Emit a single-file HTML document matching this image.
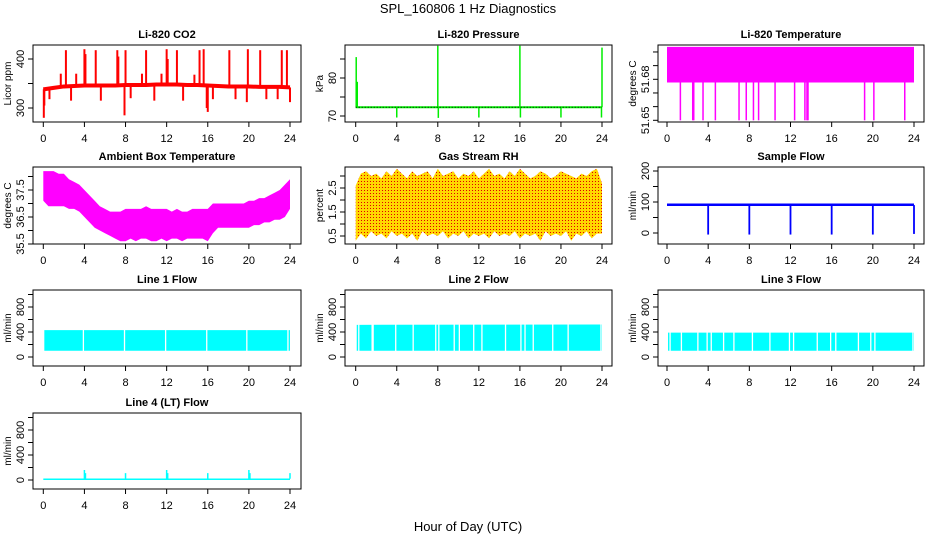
<!DOCTYPE html>
<html><head><meta charset="utf-8"><style>
html,body{margin:0;padding:0;background:#fff}
svg{display:block;font-family:"Liberation Sans",sans-serif}
</style></head><body>
<svg id="c" width="936" height="540" viewBox="0 0 936 540">
<text x="468" y="13" text-anchor="middle" font-size="13">SPL_160806  1 Hz Diagnostics</text>
<text x="468" y="531" text-anchor="middle" font-size="13">Hour of Day (UTC)</text>
<defs>
<pattern id="rhpat" width="3" height="3" patternUnits="userSpaceOnUse"><rect width="3" height="3" fill="#ffd700"/><rect x="1" y="1" width="1" height="1" fill="#e00000"/></pattern>
</defs>
</svg>
<script>
// ---- data ----
const xTicks=[0,4,8,12,16,20,24];
const co2Hours=[0,1,2,3,4,5,6,7,8,9,10,11,12,13,14,15,16,17,18,19,20,21,22,23,24];
const co2Base=[338,341,344,345,346,346,346,346,347,347,347,348,348,348,347,347,346,345,344,344,344,343,343,343,342];
const co2SpikeHours=[0.05,0.1,0.6,1.7,2.2,2.7,3.2,4.0,4.1,5.1,5.6,7.2,7.3,7.9,8.0,8.5,9.6,10.0,10.8,11.5,12.0,12.1,13.0,13.6,14.7,15.2,15.6,15.9,16.0,16.5,18.1,18.7,19.8,19.9,21.1,21.7,22.8,23.2,23.7,24.0];
const co2SpikeVals=[280,305,318,370,418,315,370,420,410,418,315,418,405,285,418,320,370,418,315,370,420,400,418,315,368,418,420,300,292,318,418,318,312,420,418,318,318,418,418,312];
const presHours=[0,24];
const presBase=[72.3,72.3];
const presSpikeHours=[0.05,0.15,4.0,8.0,8.05,12.0,16.0,16.05,20.0,24.0,23.95];
const presSpikeVals=[85.5,79,69.6,88.5,69.5,69.6,88.5,69.6,69.6,88,69.6];
const ltHours=[0,24];
const ltLow=[51.6777,51.6777];
const ltHigh=[51.7037,51.7037];
const ltSpikeHours=[1.3,2.5,2.6,3.5,4.7,7.0,7.7,8.4,8.9,10.5,12.4,13.4,13.6,13.7,19.2,20.1,23.1];
const ltSpikeVals=[51.65,51.65,51.65,51.65,51.65,51.65,51.65,51.65,51.65,51.65,51.65,51.65,51.65,51.65,51.65,51.65,51.65];
const ambHours=[0,0.5,1,1.5,2,2.5,3,3.5,4,4.5,5,5.5,6,6.5,7,7.5,8,8.5,9,9.5,10,10.5,11,11.5,12,12.5,13,13.5,14,14.5,15,15.5,16,16.5,17,17.5,18,18.5,19,19.5,20,20.5,21,21.5,22,22.5,23,23.5,24];
const ambLow=[37.1,36.9,36.9,36.9,36.9,36.8,36.8,36.7,36.5,36.3,36.1,36.0,35.9,35.8,35.7,35.6,35.6,35.7,35.6,35.7,35.7,35.6,35.6,35.7,35.6,35.7,35.7,35.6,35.7,35.7,35.7,35.7,35.6,35.9,36.1,36.1,36.1,36.1,36.1,36.1,36.1,36.2,36.2,36.3,36.3,36.4,36.4,36.5,36.8];
const ambHigh=[38.2,38.2,38.2,38.1,38.1,37.9,37.8,37.7,37.5,37.3,37.1,36.9,36.8,36.7,36.7,36.7,36.8,36.8,36.8,36.8,36.9,36.8,36.8,36.8,36.8,36.7,36.8,36.7,36.7,36.8,36.8,36.8,36.8,37.0,37.0,37.0,37.0,37.0,37.0,37.0,37.1,37.1,37.2,37.2,37.3,37.4,37.5,37.7,37.9];
const rhHours=[0,0.5,1,1.5,2,2.5,3,3.5,4,4.5,5,5.5,6,6.5,7,7.5,8,8.5,9,9.5,10,10.5,11,11.5,12,12.5,13,13.5,14,14.5,15,15.5,16,16.5,17,17.5,18,18.5,19,19.5,20,20.5,21,21.5,22,22.5,23,23.5,24];
const rhLow=[0.3,0.6,0.4,0.7,0.5,0.6,0.4,0.7,0.5,0.6,0.4,0.6,0.3,0.7,0.5,0.6,0.5,0.7,0.4,0.6,0.5,0.7,0.4,0.6,0.5,0.6,0.4,0.7,0.5,0.6,0.5,0.7,0.4,0.6,0.5,0.6,0.3,0.7,0.5,0.6,0.5,0.7,0.3,0.6,0.5,0.7,0.4,0.6,0.6];
const rhHigh=[2.6,3.1,3.2,3.0,3.1,2.9,3.2,3.0,3.3,3.1,2.9,3.2,3.0,3.1,3.2,2.9,3.3,3.0,3.1,3.2,2.9,3.1,3.0,3.2,2.9,3.1,3.3,3.0,3.1,2.9,3.2,3.0,3.3,3.1,2.9,3.0,3.2,3.1,2.9,3.0,3.2,3.1,3.0,2.9,3.1,3.0,3.2,3.3,2.7];
const sfHours=[0,24];
const sfLow=[87,87];
const sfHigh=[95,95];
const sfSpikeHours=[4,8,12,16,20,24];
const sfSpikeVals=[-5,-5,-5,-5,-5,-3];
const l1Low=[100,100];const l1High=[430,430];
const l1GapHours=[3.9,7.9,11.9,15.9,19.8,23.8];
const l2Low=[100,100];const l2High=[515,520];
const l2GapHours=[0.3,1.6,1.7,3.9,5.6,7.8,8.1,9.6,10.1,11.5,12.3,14.6,16.1,16.5,17.3,19.2,20.7,23.9];
const l3Low=[100,100];const l3High=[390,390];
const l3GapHours=[0.3,1.4,3.0,3.9,4.3,5.5,6.5,8.3,10.0,11.9,12.3,14.6,15.9,16.4,18.6,19.8,20.2,23.9];
const l4Hours=[0,24];const l4Low=[0,0];const l4High=[25,25];
const l4SpikeHours=[4.0,4.1,8.0,12.0,12.1,16.0,20.0,20.1,24.0];
const l4SpikeVals=[160,110,110,160,110,110,160,110,110];
const flowTicks=[0,200,400,600,800,1000];
const flowLabels=[0,400,800];

// ---- helpers ----
const svg=document.getElementById('c');
const NS='http://www.w3.org/2000/svg';
function mk(tag,attrs,parent){const e=document.createElementNS(NS,tag);for(const k in attrs)e.setAttribute(k,attrs[k]);(parent||svg).appendChild(e);return e;}
const cols=[{l:33,r:301,x0:43.3,x24:290},{l:345,r:612,x0:355.7,x24:602},{l:658,r:924,x0:667,x24:914}];
const rows=[{t:45,b:122},{t:167,b:244},{t:290,b:366},{t:413,b:489}];

function panel(p){
  const c=cols[p.col],r=rows[p.row];
  const g=mk('g',{});
  
  
  const X=h=>c.x0+h*(c.x24-c.x0)/24;
  const Y=v=>p.y1+(v-p.v1)*(p.y2-p.y1)/(p.v2-p.v1);
  const clip=mk('clipPath',{id:'cl'+p.name},g);
  mk('rect',{x:c.l,y:r.t,width:c.r-c.l,height:r.b-r.t},clip);
  const plot=mk('g',{'clip-path':'url(#cl'+p.name+')'},g);
  
  
  p.draw(plot,X,Y);
  const box=mk('rect',{x:c.l,y:r.t,width:c.r-c.l,height:r.b-r.t,fill:'none',stroke:'#000','stroke-width':1},g);
  
  
  const t=mk('text',{x:(c.l+c.r)/2,y:r.t-7,'text-anchor':'middle','font-size':11,'font-weight':'bold'},g);
  t.textContent=p.title;
  
  
  xTicks.forEach(h=>{
    mk('line',{x1:X(h),x2:X(h),y1:r.b,y2:r.b+5,stroke:'#000'},g);
    const tl=mk('text',{x:X(h),y:r.b+20,'text-anchor':'middle','font-size':11},g);
    tl.textContent=h;
    
    
  });
  p.yTicks.forEach(v=>{mk('line',{x1:c.l-5,x2:c.l,y1:Y(v),y2:Y(v),stroke:'#000'},g);});
  p.yLabels.forEach(v=>{
    const yl=mk('text',{x:0,y:0,'text-anchor':'middle','font-size':11,transform:'translate('+(c.l-9)+','+Y(v)+') rotate(-90)'},g);
    yl.textContent=v;
    
    
  });
  const yt=mk('text',{x:0,y:0,'text-anchor':'middle','font-size':10,transform:'translate('+(c.l-22)+','+((r.t+r.b)/2)+') rotate(-90)'},g);
  yt.textContent=p.ylab;
  
  
}
function spikes(plot,X,Y,hs,vs,baseFn,color,w){
  hs.forEach((h,i)=>{
    const ln=mk('line',{x1:X(h),x2:X(h),y1:Y(baseFn(h)),y2:Y(vs[i]),stroke:color,'stroke-width':w||1.5},plot);
    
    
  });
}
function interp(hs,vs,h){for(let i=0;i<hs.length-1;i++){if(h<=hs[i+1]){const f=(h-hs[i])/(hs[i+1]-hs[i]);return vs[i]+f*(vs[i+1]-vs[i]);}}return vs[vs.length-1];}
function band(plot,X,Y,hs,lo,hi,fill,name){
  let pts=hs.map((h,i)=>X(h)+','+Y(hi[i]));
  pts=pts.concat(hs.slice().reverse().map((h,j)=>X(h)+','+Y(lo[hs.length-1-j])));
  const pg=mk('polygon',{points:pts.join(' '),fill:fill},plot);
  
  
}
function gaps(plot,X,Y,hs,lo,hi){
  hs.forEach(h=>{
    const ln=mk('line',{x1:X(h),x2:X(h),y1:Y(hi[0])-1,y2:Y(lo[0])+1,stroke:'#fff','stroke-width':1.3},plot);
    
    
  });
}

panel({name:'co2',title:'Li-820 CO2',ylab:'Licor ppm',col:0,row:0,v1:400,y1:59,v2:300,y2:108,yTicks:[300,350,400],yLabels:[300,400],
 draw:(pl,X,Y)=>{
  spikes(pl,X,Y,co2SpikeHours,co2SpikeVals,h=>interp(co2Hours,co2Base,h),'#ff0000',2);
  const pts=co2Hours.map((h,i)=>X(h)+','+Y(co2Base[i])).join(' ');
  const l=mk('polyline',{points:pts,fill:'none',stroke:'#ff0000','stroke-width':4},pl);
  
 }});
panel({name:'pressure',title:'Li-820 Pressure',ylab:'kPa',col:1,row:0,v1:80,y1:78,v2:70,y2:116,yTicks:[70,75,80,85],yLabels:[70,80],
 draw:(pl,X,Y)=>{
  spikes(pl,X,Y,presSpikeHours,presSpikeVals,h=>72.3,'#00ee00',1.5);
  const pts=presHours.map((h,i)=>X(h)+','+Y(presBase[i])).join(' ');
  const l=mk('polyline',{points:pts,fill:'none',stroke:'#00ee00','stroke-width':2},pl);
  
  const d=mk('polyline',{points:pts,fill:'none',stroke:'#000','stroke-width':1,'stroke-dasharray':'1,2'},pl);
  
 }});
panel({name:'li820-temp',title:'Li-820 Temperature',ylab:'degrees C',col:2,row:0,v1:51.65,y1:120.3,v2:51.68,y2:79.3,yTicks:[51.65,51.66,51.67,51.68,51.69,51.70],yLabels:[51.65,51.68],
 draw:(pl,X,Y)=>{
  band(pl,X,Y,ltHours,ltLow,ltHigh,'#ff00ff','li820-temp-band');
  spikes(pl,X,Y,ltSpikeHours,ltSpikeVals,h=>51.6777,'#ff00ff',1.5);
 }});
panel({name:'ambient-temp',title:'Ambient Box Temperature',ylab:'degrees C',col:0,row:1,v1:37.5,y1:190,v2:35.5,y2:244,yTicks:[35.5,36,36.5,37,37.5,38],yLabels:[35.5,36.5,37.5],
 draw:(pl,X,Y)=>{band(pl,X,Y,ambHours,ambLow,ambHigh,'#ff00ff','ambient-temp-band');}});
panel({name:'gas-rh',title:'Gas Stream RH',ylab:'percent',col:1,row:1,v1:2.5,y1:188,v2:0.5,y2:236,yTicks:[0.5,1,1.5,2,2.5,3],yLabels:[0.5,1.5,2.5],
 draw:(pl,X,Y)=>{band(pl,X,Y,rhHours,rhLow,rhHigh,'url(#rhpat)','gas-rh-band');}});
panel({name:'sample-flow',title:'Sample Flow',ylab:'ml/min',col:2,row:1,v1:0,y1:233,v2:200,y2:171,yTicks:[0,50,100,150,200],yLabels:[0,100,200],
 draw:(pl,X,Y)=>{band(pl,X,Y,sfHours,sfLow,sfHigh,'#0000ff','sample-flow-band');spikes(pl,X,Y,sfSpikeHours,sfSpikeVals,h=>90,'#0000ff',1.8);}});
const fy={v1:0,y1:357,v2:800,y2:307,yTicks:flowTicks,yLabels:flowLabels};
panel(Object.assign({name:'line1-flow',title:'Line 1 Flow',ylab:'ml/min',col:0,row:2,
 draw:(pl,X,Y)=>{band(pl,X,Y,[0.1,24],l1Low,l1High,'#00ffff','line1-flow-band');gaps(pl,X,Y,l1GapHours,l1Low,l1High);}},fy));
panel(Object.assign({name:'line2-flow',title:'Line 2 Flow',ylab:'ml/min',col:1,row:2,
 draw:(pl,X,Y)=>{band(pl,X,Y,[0.1,24],l2Low,l2High,'#00ffff','line2-flow-band');gaps(pl,X,Y,l2GapHours,l2Low,l2High);}},fy));
panel(Object.assign({name:'line3-flow',title:'Line 3 Flow',ylab:'ml/min',col:2,row:2,
 draw:(pl,X,Y)=>{band(pl,X,Y,[0.1,24],l3Low,l3High,'#00ffff','line3-flow-band');gaps(pl,X,Y,l3GapHours,l3Low,l3High);}},fy));
panel({name:'line4-flow',title:'Line 4 (LT) Flow',ylab:'ml/min',col:0,row:3,v1:0,y1:480,v2:800,y2:430,yTicks:flowTicks,yLabels:flowLabels,
 draw:(pl,X,Y)=>{band(pl,X,Y,l4Hours,l4Low,l4High,'#00ffff','line4-flow-band');spikes(pl,X,Y,l4SpikeHours,l4SpikeVals,h=>20,'#00ffff',1.5);}});
</script>
</body></html>
